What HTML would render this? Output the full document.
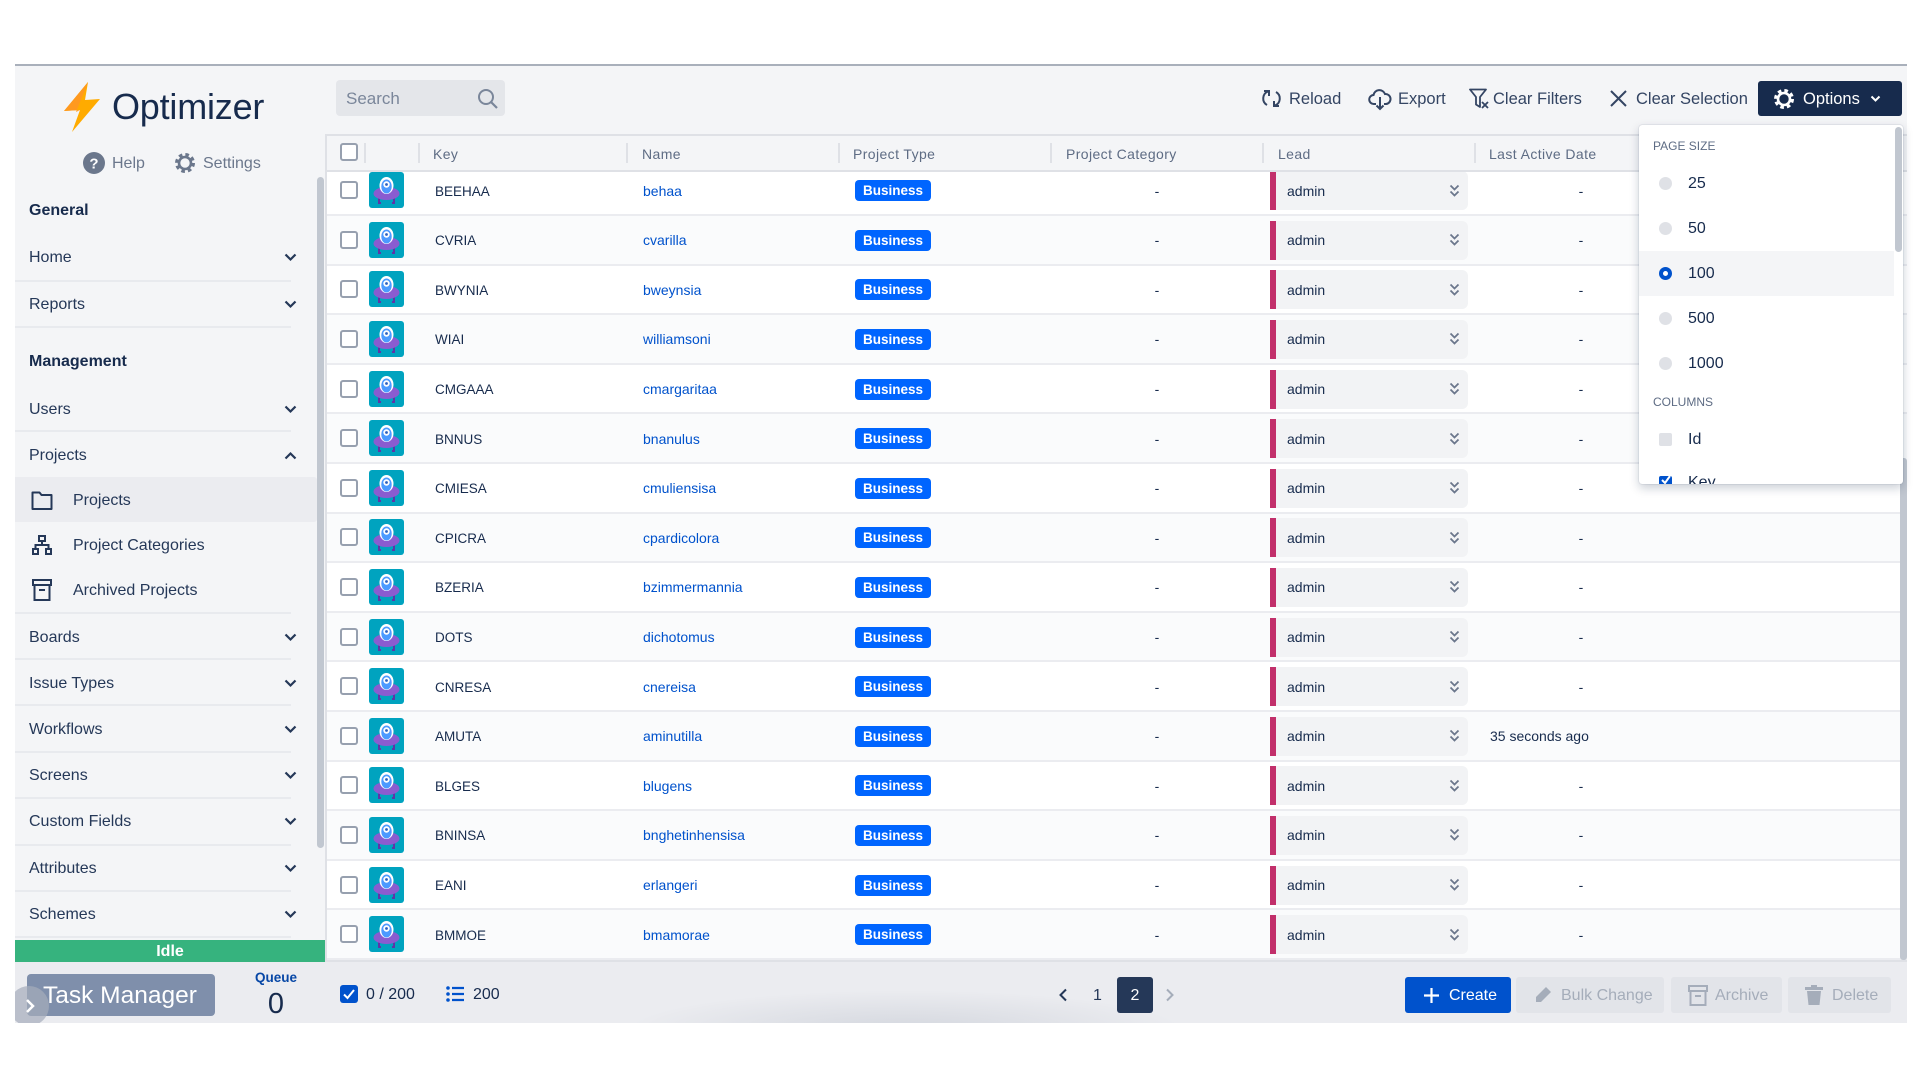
<!DOCTYPE html>
<html><head><meta charset="utf-8">
<style>
*{margin:0;padding:0;box-sizing:border-box}
body{width:1920px;height:1080px;background:#fff;font-family:"Liberation Sans",sans-serif;position:relative;overflow:hidden;color:#172b4d}
.a{position:absolute}
.frame{left:15px;top:64px;width:1892px;height:959px;background:#f4f5f7;border-top:2px solid #a9b0bb}
.si{position:absolute;left:29px;height:24px;line-height:24px;font-size:16px;color:#253858;white-space:nowrap;margin-top:1px}
.sb{font-weight:bold;color:#172b4d}
.sep{position:absolute;left:15px;width:276px;height:2px;background:#e8eaee}
.chev{position:absolute;left:284px}
.row{position:absolute;left:325px;width:1582px;height:49.6px;border-bottom:2px solid #ebecf0;background:#fff}
.row.g{background:#fafbfc}
.row>*{position:absolute}
.cb{left:15px;top:14.8px;width:18px;height:18px;border:2px solid #97a0af;border-radius:3px;background:#fff}
.av{left:44px;top:5.8px}
.key,.nm,.pc,.ad,.la{top:1.3px;line-height:47.6px;font-size:14px;white-space:nowrap}
.key{left:110px;font-size:13.5px;color:#172b4d}
.nm{left:318px;color:#0052cc}
.bd{left:530px;top:13.8px;width:76px;height:21px;line-height:21px;background:#0065ff;color:#fff;font-weight:bold;font-size:13.5px;text-align:center;border-radius:4px}
.pc{left:827px;width:10px;text-align:center}
.lb{left:945px;top:4.8px;width:6px;height:39px;background:#c2306b}
.lx{left:951px;top:4.8px;width:192px;height:39px;background:#f2f3f5;border-radius:0 6px 6px 0}
.ad{left:962px;color:#172b4d}
.dc{left:1124px;top:17.3px}
.la{left:1251px;width:10px;text-align:center}
.la.t{left:1165px;width:auto}
.hl{position:absolute;top:144px;height:20px;line-height:20px;font-size:14px;color:#5e6c84;letter-spacing:0.4px;white-space:nowrap;z-index:3}
.hs{position:absolute;top:143px;width:2px;height:20px;background:#dfe1e6;z-index:3}
.tb{position:absolute;top:88px;height:22px;line-height:22px;font-size:16.5px;color:#344563;white-space:nowrap}
.dd{left:1639px;top:125px;width:264px;height:359px;background:#fff;border-radius:3px;box-shadow:0 4px 10px rgba(9,30,66,.22),0 0 1px rgba(9,30,66,.35);overflow:hidden;z-index:10}
.dd>*{position:absolute}
.dh{left:14px;font-size:12px;color:#5e6c84;height:16px;line-height:16px}
.rd{left:20px;width:13px;height:13px;border-radius:50%;background:#dfe1e6}
.rt{left:49px;font-size:16px;height:20px;line-height:20px;color:#172b4d}
.btn{position:absolute;top:977px;height:36px;border-radius:3px;background:#e2e4e9;color:#a5adba;font-size:16px;line-height:36px;white-space:nowrap}
</style></head><body>

<div class="a frame"></div>

<!-- Sidebar -->
<svg class="a" style="left:62px;top:81px" width="40" height="52" viewBox="0 0 40 52">
<polygon points="26,1 2,30 18,29 10,51 38,18 23,19" fill="#ffab00"/>
<polygon points="26,1 2,30 18,29 14,31" fill="#ff991f"/>
</svg>
<div class="a" style="left:112px;top:85px;font-size:36px;line-height:44px;color:#172b4d;letter-spacing:-0.2px">Optimizer</div>

<svg class="a" style="left:83px;top:152px" width="22" height="22" viewBox="0 0 22 22"><circle cx="11" cy="11" r="11" fill="#6b778c"/><text x="11" y="16.5" text-anchor="middle" font-family="Liberation Sans" font-weight="bold" font-size="15" fill="#fff">?</text></svg>
<div class="a" style="left:112px;top:154px;font-size:16px;line-height:20px;color:#6b778c">Help</div>
<svg class="a" style="left:174px;top:152px" width="22" height="22" viewBox="0 0 22 22"><circle cx="11" cy="11" r="8" fill="none" stroke="#6b778c" stroke-width="4" stroke-dasharray="3.4 2.9"/><circle cx="11" cy="11" r="6" fill="none" stroke="#6b778c" stroke-width="2.6"/></svg>
<div class="a" style="left:203px;top:154px;font-size:16px;line-height:20px;color:#6b778c">Settings</div>

<div class="si sb" style="top:198px">General</div>
<div class="si" style="top:245px">Home</div>
<div class="sep" style="top:280px"></div>
<div class="si" style="top:292px">Reports</div>
<div class="sep" style="top:326px"></div>
<div class="si sb" style="top:349px">Management</div>
<div class="si" style="top:397px">Users</div>
<div class="sep" style="top:430px"></div>
<div class="si" style="top:443px">Projects</div>
<div class="a" style="left:15px;top:477px;width:302px;height:45px;background:#ebecf0;border-radius:0 3px 3px 0"></div>
<svg class="a" style="left:31px;top:489px" width="22" height="22" viewBox="0 0 22 22"><path d="M1.5 3.5h7l2 2.5h10v14h-19z" fill="none" stroke="#253858" stroke-width="2" stroke-linejoin="round"/></svg>
<div class="si" style="left:73px;top:488px">Projects</div>
<svg class="a" style="left:32px;top:535px" width="20" height="21" viewBox="0 0 20 21"><rect x="7" y="1" width="6" height="5" fill="none" stroke="#253858" stroke-width="2"/><path d="M10 6v4M3.5 14v-4h13v4" fill="none" stroke="#253858" stroke-width="2"/><rect x="1" y="14" width="5" height="5" fill="none" stroke="#253858" stroke-width="2"/><rect x="14" y="14" width="5" height="5" fill="none" stroke="#253858" stroke-width="2"/></svg>
<div class="si" style="left:73px;top:533px">Project Categories</div>
<svg class="a" style="left:32px;top:579px" width="20" height="22" viewBox="0 0 20 22"><rect x="1" y="1" width="18" height="5" fill="none" stroke="#253858" stroke-width="2"/><rect x="2.5" y="6" width="15" height="15" fill="none" stroke="#253858" stroke-width="2"/><path d="M7 11h6" stroke="#253858" stroke-width="2"/></svg>
<div class="si" style="left:73px;top:578px">Archived Projects</div>
<div class="sep" style="top:612px"></div>
<div class="si" style="top:625px">Boards</div>
<div class="sep" style="top:658px"></div>
<div class="si" style="top:671px">Issue Types</div>
<div class="sep" style="top:704px"></div>
<div class="si" style="top:717px">Workflows</div>
<div class="sep" style="top:751px"></div>
<div class="si" style="top:763px">Screens</div>
<div class="sep" style="top:797px"></div>
<div class="si" style="top:809px">Custom Fields</div>
<div class="sep" style="top:844px"></div>
<div class="si" style="top:856px">Attributes</div>
<div class="sep" style="top:890px"></div>
<div class="si" style="top:902px">Schemes</div>
<div class="sep" style="top:936px"></div>

<!-- chevrons -->
<svg class="chev" style="top:253px" width="13" height="9" viewBox="0 0 13 9"><path d="M1.5 1.5l5 5 5-5" stroke="#253858" stroke-width="2.2" fill="none"/></svg>
<svg class="chev" style="top:300px" width="13" height="9" viewBox="0 0 13 9"><path d="M1.5 1.5l5 5 5-5" stroke="#253858" stroke-width="2.2" fill="none"/></svg>
<svg class="chev" style="top:405px" width="13" height="9" viewBox="0 0 13 9"><path d="M1.5 1.5l5 5 5-5" stroke="#253858" stroke-width="2.2" fill="none"/></svg>
<svg class="chev" style="top:451px" width="13" height="9" viewBox="0 0 13 9"><path d="M1.5 7.5l5-5 5 5" stroke="#253858" stroke-width="2.2" fill="none"/></svg>
<svg class="chev" style="top:633px" width="13" height="9" viewBox="0 0 13 9"><path d="M1.5 1.5l5 5 5-5" stroke="#253858" stroke-width="2.2" fill="none"/></svg>
<svg class="chev" style="top:679px" width="13" height="9" viewBox="0 0 13 9"><path d="M1.5 1.5l5 5 5-5" stroke="#253858" stroke-width="2.2" fill="none"/></svg>
<svg class="chev" style="top:725px" width="13" height="9" viewBox="0 0 13 9"><path d="M1.5 1.5l5 5 5-5" stroke="#253858" stroke-width="2.2" fill="none"/></svg>
<svg class="chev" style="top:771px" width="13" height="9" viewBox="0 0 13 9"><path d="M1.5 1.5l5 5 5-5" stroke="#253858" stroke-width="2.2" fill="none"/></svg>
<svg class="chev" style="top:817px" width="13" height="9" viewBox="0 0 13 9"><path d="M1.5 1.5l5 5 5-5" stroke="#253858" stroke-width="2.2" fill="none"/></svg>
<svg class="chev" style="top:864px" width="13" height="9" viewBox="0 0 13 9"><path d="M1.5 1.5l5 5 5-5" stroke="#253858" stroke-width="2.2" fill="none"/></svg>
<svg class="chev" style="top:910px" width="13" height="9" viewBox="0 0 13 9"><path d="M1.5 1.5l5 5 5-5" stroke="#253858" stroke-width="2.2" fill="none"/></svg>

<!-- sidebar scrollbar -->
<div class="a" style="left:317px;top:177px;width:7px;height:671px;background:#c1c7d0;border-radius:4px"></div>

<!-- Idle + sidebar footer -->
<div class="a" style="left:15px;top:940px;width:310px;height:22px;background:#36b37e;color:#fff;font-weight:bold;font-size:16px;line-height:23px;text-align:center">Idle</div>
<div class="a" style="left:15px;top:962px;width:310px;height:61px;background:#ebecf0;overflow:hidden">
  <div class="a" style="left:12px;top:12px;width:188px;height:42px;background:#7f8fab;border-radius:4px;color:#fff;font-size:24.5px;line-height:43px;padding-left:16px;white-space:nowrap">Task Manager</div>
  <div class="a" style="left:-6px;top:24px;width:40px;height:40px;border-radius:50%;background:rgba(165,173,186,0.7)"></div>
  <svg class="a" style="left:10px;top:36px" width="10" height="16" viewBox="0 0 10 16"><path d="M2 2l6 6-6 6" stroke="#fff" stroke-width="2.5" fill="none"/></svg>
  <div class="a" style="left:236px;top:8px;width:50px;text-align:center;font-weight:bold;font-size:13.5px;color:#0747a6;line-height:16px">Queue</div>
  <div class="a" style="left:236px;top:25px;width:50px;text-align:center;font-size:29px;color:#172b4d;line-height:34px">0</div>
</div>

<!-- Search -->
<div class="a" style="left:336px;top:80px;width:169px;height:36px;background:#e4e6ea;border-radius:4px"></div>
<div class="a" style="left:346px;top:88px;font-size:17px;line-height:22px;color:#7a869a">Search</div>
<svg class="a" style="left:477px;top:88px" width="22" height="22" viewBox="0 0 22 22"><circle cx="9" cy="9" r="7" fill="none" stroke="#7a869a" stroke-width="2"/><path d="M14 14l6 6" stroke="#7a869a" stroke-width="2.2"/></svg>

<!-- Toolbar -->
<svg class="a" style="left:1261px;top:88px" width="21" height="21" viewBox="0 0 21 21"><path d="M7 3.5A7.5 7.5 0 0 0 6 17" fill="none" stroke="#344563" stroke-width="2"/><path d="M14 17.5A7.5 7.5 0 0 0 15 4" fill="none" stroke="#344563" stroke-width="2"/><path d="M3 3h5v5" fill="none" stroke="#344563" stroke-width="2"/><path d="M18 18h-5v-5" fill="none" stroke="#344563" stroke-width="2"/></svg>
<div class="tb" style="left:1289px">Reload</div>
<svg class="a" style="left:1368px;top:87px" width="24" height="24" viewBox="0 0 24 24"><path d="M8 17H6a4.5 4.5 0 0 1-.5-9A6 6 0 0 1 17 7a4.5 4.5 0 0 1 1 10h-2" fill="none" stroke="#344563" stroke-width="2"/><path d="M12 10v12M8.5 18.5l3.5 3.5 3.5-3.5" fill="none" stroke="#344563" stroke-width="2"/></svg>
<div class="tb" style="left:1398px">Export</div>
<svg class="a" style="left:1469px;top:88px" width="21" height="22" viewBox="0 0 21 22"><path d="M1 1.5h16l-6 7.5v10l-4-2.5v-7.5z" fill="none" stroke="#344563" stroke-width="1.8" stroke-linejoin="round"/><path d="M13 14l6 6M19 14l-6 6" stroke="#344563" stroke-width="1.8"/></svg>
<div class="tb" style="left:1493px">Clear Filters</div>
<svg class="a" style="left:1609px;top:89px" width="19" height="19" viewBox="0 0 19 19"><path d="M2 2l15 15M17 2L2 17" stroke="#344563" stroke-width="2"/></svg>
<div class="tb" style="left:1636px">Clear Selection</div>
<div class="a" style="left:1758px;top:81px;width:144px;height:35px;background:#172b4d;border-radius:3px"></div>
<svg class="a" style="left:1773px;top:88px" width="22" height="22" viewBox="0 0 22 22"><circle cx="11" cy="11" r="8" fill="none" stroke="#fff" stroke-width="4" stroke-dasharray="3.4 2.9"/><circle cx="11" cy="11" r="6" fill="none" stroke="#fff" stroke-width="2.6"/></svg>
<div class="tb" style="left:1803px;color:#fff">Options</div>
<svg class="a" style="left:1870px;top:95px" width="11" height="8" viewBox="0 0 11 8"><path d="M1.5 1.5l4 4 4-4" stroke="#fff" stroke-width="2" fill="none"/></svg>

<!-- Table left border -->
<div class="a" style="left:325px;top:134px;width:2px;height:828px;background:#dfe1e6;z-index:4"></div>

<!-- Rows -->
<div class="row" style="top:166.4px"><div class="cb"></div><svg class="av" width="35" height="36" viewBox="0 0 35 36"><rect width="35" height="36" rx="3" fill="#00a3bf"/><path d="M10 25v6M25 25v6M9 31h3M23 31h3" stroke="#5e35a8" stroke-width="2"/><ellipse cx="17.5" cy="21.5" rx="13" ry="6.5" fill="#8a5cd0"/><ellipse cx="17.5" cy="13.5" rx="7" ry="8.5" fill="#fff"/><ellipse cx="17.5" cy="14.5" rx="5.2" ry="7" fill="#4c9aff"/><circle cx="17.5" cy="12.5" r="3.2" fill="#fff"/><circle cx="17.5" cy="12.5" r="1.4" fill="#2a5fbf"/></svg><span class="key">BEEHAA</span><span class="nm">behaa</span><span class="bd">Business</span><span class="pc">-</span><div class="lb"></div><div class="lx"></div><span class="ad">admin</span><svg class="dc" width="11" height="14" viewBox="0 0 11 14"><path d="M1.5 1.5l4 4 4-4M1.5 7.5l4 4 4-4" stroke="#6b778c" stroke-width="1.8" fill="none"/></svg><span class="la">-</span></div>
<div class="row g" style="top:216px"><div class="cb"></div><svg class="av" width="35" height="36" viewBox="0 0 35 36"><rect width="35" height="36" rx="3" fill="#00a3bf"/><path d="M10 25v6M25 25v6M9 31h3M23 31h3" stroke="#5e35a8" stroke-width="2"/><ellipse cx="17.5" cy="21.5" rx="13" ry="6.5" fill="#8a5cd0"/><ellipse cx="17.5" cy="13.5" rx="7" ry="8.5" fill="#fff"/><ellipse cx="17.5" cy="14.5" rx="5.2" ry="7" fill="#4c9aff"/><circle cx="17.5" cy="12.5" r="3.2" fill="#fff"/><circle cx="17.5" cy="12.5" r="1.4" fill="#2a5fbf"/></svg><span class="key">CVRIA</span><span class="nm">cvarilla</span><span class="bd">Business</span><span class="pc">-</span><div class="lb"></div><div class="lx"></div><span class="ad">admin</span><svg class="dc" width="11" height="14" viewBox="0 0 11 14"><path d="M1.5 1.5l4 4 4-4M1.5 7.5l4 4 4-4" stroke="#6b778c" stroke-width="1.8" fill="none"/></svg><span class="la">-</span></div>
<div class="row" style="top:265.6px"><div class="cb"></div><svg class="av" width="35" height="36" viewBox="0 0 35 36"><rect width="35" height="36" rx="3" fill="#00a3bf"/><path d="M10 25v6M25 25v6M9 31h3M23 31h3" stroke="#5e35a8" stroke-width="2"/><ellipse cx="17.5" cy="21.5" rx="13" ry="6.5" fill="#8a5cd0"/><ellipse cx="17.5" cy="13.5" rx="7" ry="8.5" fill="#fff"/><ellipse cx="17.5" cy="14.5" rx="5.2" ry="7" fill="#4c9aff"/><circle cx="17.5" cy="12.5" r="3.2" fill="#fff"/><circle cx="17.5" cy="12.5" r="1.4" fill="#2a5fbf"/></svg><span class="key">BWYNIA</span><span class="nm">bweynsia</span><span class="bd">Business</span><span class="pc">-</span><div class="lb"></div><div class="lx"></div><span class="ad">admin</span><svg class="dc" width="11" height="14" viewBox="0 0 11 14"><path d="M1.5 1.5l4 4 4-4M1.5 7.5l4 4 4-4" stroke="#6b778c" stroke-width="1.8" fill="none"/></svg><span class="la">-</span></div>
<div class="row g" style="top:315.2px"><div class="cb"></div><svg class="av" width="35" height="36" viewBox="0 0 35 36"><rect width="35" height="36" rx="3" fill="#00a3bf"/><path d="M10 25v6M25 25v6M9 31h3M23 31h3" stroke="#5e35a8" stroke-width="2"/><ellipse cx="17.5" cy="21.5" rx="13" ry="6.5" fill="#8a5cd0"/><ellipse cx="17.5" cy="13.5" rx="7" ry="8.5" fill="#fff"/><ellipse cx="17.5" cy="14.5" rx="5.2" ry="7" fill="#4c9aff"/><circle cx="17.5" cy="12.5" r="3.2" fill="#fff"/><circle cx="17.5" cy="12.5" r="1.4" fill="#2a5fbf"/></svg><span class="key">WIAI</span><span class="nm">williamsoni</span><span class="bd">Business</span><span class="pc">-</span><div class="lb"></div><div class="lx"></div><span class="ad">admin</span><svg class="dc" width="11" height="14" viewBox="0 0 11 14"><path d="M1.5 1.5l4 4 4-4M1.5 7.5l4 4 4-4" stroke="#6b778c" stroke-width="1.8" fill="none"/></svg><span class="la">-</span></div>
<div class="row" style="top:364.8px"><div class="cb"></div><svg class="av" width="35" height="36" viewBox="0 0 35 36"><rect width="35" height="36" rx="3" fill="#00a3bf"/><path d="M10 25v6M25 25v6M9 31h3M23 31h3" stroke="#5e35a8" stroke-width="2"/><ellipse cx="17.5" cy="21.5" rx="13" ry="6.5" fill="#8a5cd0"/><ellipse cx="17.5" cy="13.5" rx="7" ry="8.5" fill="#fff"/><ellipse cx="17.5" cy="14.5" rx="5.2" ry="7" fill="#4c9aff"/><circle cx="17.5" cy="12.5" r="3.2" fill="#fff"/><circle cx="17.5" cy="12.5" r="1.4" fill="#2a5fbf"/></svg><span class="key">CMGAAA</span><span class="nm">cmargaritaa</span><span class="bd">Business</span><span class="pc">-</span><div class="lb"></div><div class="lx"></div><span class="ad">admin</span><svg class="dc" width="11" height="14" viewBox="0 0 11 14"><path d="M1.5 1.5l4 4 4-4M1.5 7.5l4 4 4-4" stroke="#6b778c" stroke-width="1.8" fill="none"/></svg><span class="la">-</span></div>
<div class="row g" style="top:414.4px"><div class="cb"></div><svg class="av" width="35" height="36" viewBox="0 0 35 36"><rect width="35" height="36" rx="3" fill="#00a3bf"/><path d="M10 25v6M25 25v6M9 31h3M23 31h3" stroke="#5e35a8" stroke-width="2"/><ellipse cx="17.5" cy="21.5" rx="13" ry="6.5" fill="#8a5cd0"/><ellipse cx="17.5" cy="13.5" rx="7" ry="8.5" fill="#fff"/><ellipse cx="17.5" cy="14.5" rx="5.2" ry="7" fill="#4c9aff"/><circle cx="17.5" cy="12.5" r="3.2" fill="#fff"/><circle cx="17.5" cy="12.5" r="1.4" fill="#2a5fbf"/></svg><span class="key">BNNUS</span><span class="nm">bnanulus</span><span class="bd">Business</span><span class="pc">-</span><div class="lb"></div><div class="lx"></div><span class="ad">admin</span><svg class="dc" width="11" height="14" viewBox="0 0 11 14"><path d="M1.5 1.5l4 4 4-4M1.5 7.5l4 4 4-4" stroke="#6b778c" stroke-width="1.8" fill="none"/></svg><span class="la">-</span></div>
<div class="row" style="top:464px"><div class="cb"></div><svg class="av" width="35" height="36" viewBox="0 0 35 36"><rect width="35" height="36" rx="3" fill="#00a3bf"/><path d="M10 25v6M25 25v6M9 31h3M23 31h3" stroke="#5e35a8" stroke-width="2"/><ellipse cx="17.5" cy="21.5" rx="13" ry="6.5" fill="#8a5cd0"/><ellipse cx="17.5" cy="13.5" rx="7" ry="8.5" fill="#fff"/><ellipse cx="17.5" cy="14.5" rx="5.2" ry="7" fill="#4c9aff"/><circle cx="17.5" cy="12.5" r="3.2" fill="#fff"/><circle cx="17.5" cy="12.5" r="1.4" fill="#2a5fbf"/></svg><span class="key">CMIESA</span><span class="nm">cmuliensisa</span><span class="bd">Business</span><span class="pc">-</span><div class="lb"></div><div class="lx"></div><span class="ad">admin</span><svg class="dc" width="11" height="14" viewBox="0 0 11 14"><path d="M1.5 1.5l4 4 4-4M1.5 7.5l4 4 4-4" stroke="#6b778c" stroke-width="1.8" fill="none"/></svg><span class="la">-</span></div>
<div class="row g" style="top:513.6px"><div class="cb"></div><svg class="av" width="35" height="36" viewBox="0 0 35 36"><rect width="35" height="36" rx="3" fill="#00a3bf"/><path d="M10 25v6M25 25v6M9 31h3M23 31h3" stroke="#5e35a8" stroke-width="2"/><ellipse cx="17.5" cy="21.5" rx="13" ry="6.5" fill="#8a5cd0"/><ellipse cx="17.5" cy="13.5" rx="7" ry="8.5" fill="#fff"/><ellipse cx="17.5" cy="14.5" rx="5.2" ry="7" fill="#4c9aff"/><circle cx="17.5" cy="12.5" r="3.2" fill="#fff"/><circle cx="17.5" cy="12.5" r="1.4" fill="#2a5fbf"/></svg><span class="key">CPICRA</span><span class="nm">cpardicolora</span><span class="bd">Business</span><span class="pc">-</span><div class="lb"></div><div class="lx"></div><span class="ad">admin</span><svg class="dc" width="11" height="14" viewBox="0 0 11 14"><path d="M1.5 1.5l4 4 4-4M1.5 7.5l4 4 4-4" stroke="#6b778c" stroke-width="1.8" fill="none"/></svg><span class="la">-</span></div>
<div class="row" style="top:563.2px"><div class="cb"></div><svg class="av" width="35" height="36" viewBox="0 0 35 36"><rect width="35" height="36" rx="3" fill="#00a3bf"/><path d="M10 25v6M25 25v6M9 31h3M23 31h3" stroke="#5e35a8" stroke-width="2"/><ellipse cx="17.5" cy="21.5" rx="13" ry="6.5" fill="#8a5cd0"/><ellipse cx="17.5" cy="13.5" rx="7" ry="8.5" fill="#fff"/><ellipse cx="17.5" cy="14.5" rx="5.2" ry="7" fill="#4c9aff"/><circle cx="17.5" cy="12.5" r="3.2" fill="#fff"/><circle cx="17.5" cy="12.5" r="1.4" fill="#2a5fbf"/></svg><span class="key">BZERIA</span><span class="nm">bzimmermannia</span><span class="bd">Business</span><span class="pc">-</span><div class="lb"></div><div class="lx"></div><span class="ad">admin</span><svg class="dc" width="11" height="14" viewBox="0 0 11 14"><path d="M1.5 1.5l4 4 4-4M1.5 7.5l4 4 4-4" stroke="#6b778c" stroke-width="1.8" fill="none"/></svg><span class="la">-</span></div>
<div class="row g" style="top:612.8px"><div class="cb"></div><svg class="av" width="35" height="36" viewBox="0 0 35 36"><rect width="35" height="36" rx="3" fill="#00a3bf"/><path d="M10 25v6M25 25v6M9 31h3M23 31h3" stroke="#5e35a8" stroke-width="2"/><ellipse cx="17.5" cy="21.5" rx="13" ry="6.5" fill="#8a5cd0"/><ellipse cx="17.5" cy="13.5" rx="7" ry="8.5" fill="#fff"/><ellipse cx="17.5" cy="14.5" rx="5.2" ry="7" fill="#4c9aff"/><circle cx="17.5" cy="12.5" r="3.2" fill="#fff"/><circle cx="17.5" cy="12.5" r="1.4" fill="#2a5fbf"/></svg><span class="key">DOTS</span><span class="nm">dichotomus</span><span class="bd">Business</span><span class="pc">-</span><div class="lb"></div><div class="lx"></div><span class="ad">admin</span><svg class="dc" width="11" height="14" viewBox="0 0 11 14"><path d="M1.5 1.5l4 4 4-4M1.5 7.5l4 4 4-4" stroke="#6b778c" stroke-width="1.8" fill="none"/></svg><span class="la">-</span></div>
<div class="row" style="top:662.4px"><div class="cb"></div><svg class="av" width="35" height="36" viewBox="0 0 35 36"><rect width="35" height="36" rx="3" fill="#00a3bf"/><path d="M10 25v6M25 25v6M9 31h3M23 31h3" stroke="#5e35a8" stroke-width="2"/><ellipse cx="17.5" cy="21.5" rx="13" ry="6.5" fill="#8a5cd0"/><ellipse cx="17.5" cy="13.5" rx="7" ry="8.5" fill="#fff"/><ellipse cx="17.5" cy="14.5" rx="5.2" ry="7" fill="#4c9aff"/><circle cx="17.5" cy="12.5" r="3.2" fill="#fff"/><circle cx="17.5" cy="12.5" r="1.4" fill="#2a5fbf"/></svg><span class="key">CNRESA</span><span class="nm">cnereisa</span><span class="bd">Business</span><span class="pc">-</span><div class="lb"></div><div class="lx"></div><span class="ad">admin</span><svg class="dc" width="11" height="14" viewBox="0 0 11 14"><path d="M1.5 1.5l4 4 4-4M1.5 7.5l4 4 4-4" stroke="#6b778c" stroke-width="1.8" fill="none"/></svg><span class="la">-</span></div>
<div class="row g" style="top:712px"><div class="cb"></div><svg class="av" width="35" height="36" viewBox="0 0 35 36"><rect width="35" height="36" rx="3" fill="#00a3bf"/><path d="M10 25v6M25 25v6M9 31h3M23 31h3" stroke="#5e35a8" stroke-width="2"/><ellipse cx="17.5" cy="21.5" rx="13" ry="6.5" fill="#8a5cd0"/><ellipse cx="17.5" cy="13.5" rx="7" ry="8.5" fill="#fff"/><ellipse cx="17.5" cy="14.5" rx="5.2" ry="7" fill="#4c9aff"/><circle cx="17.5" cy="12.5" r="3.2" fill="#fff"/><circle cx="17.5" cy="12.5" r="1.4" fill="#2a5fbf"/></svg><span class="key">AMUTA</span><span class="nm">aminutilla</span><span class="bd">Business</span><span class="pc">-</span><div class="lb"></div><div class="lx"></div><span class="ad">admin</span><svg class="dc" width="11" height="14" viewBox="0 0 11 14"><path d="M1.5 1.5l4 4 4-4M1.5 7.5l4 4 4-4" stroke="#6b778c" stroke-width="1.8" fill="none"/></svg><span class="la t">35 seconds ago</span></div>
<div class="row" style="top:761.6px"><div class="cb"></div><svg class="av" width="35" height="36" viewBox="0 0 35 36"><rect width="35" height="36" rx="3" fill="#00a3bf"/><path d="M10 25v6M25 25v6M9 31h3M23 31h3" stroke="#5e35a8" stroke-width="2"/><ellipse cx="17.5" cy="21.5" rx="13" ry="6.5" fill="#8a5cd0"/><ellipse cx="17.5" cy="13.5" rx="7" ry="8.5" fill="#fff"/><ellipse cx="17.5" cy="14.5" rx="5.2" ry="7" fill="#4c9aff"/><circle cx="17.5" cy="12.5" r="3.2" fill="#fff"/><circle cx="17.5" cy="12.5" r="1.4" fill="#2a5fbf"/></svg><span class="key">BLGES</span><span class="nm">blugens</span><span class="bd">Business</span><span class="pc">-</span><div class="lb"></div><div class="lx"></div><span class="ad">admin</span><svg class="dc" width="11" height="14" viewBox="0 0 11 14"><path d="M1.5 1.5l4 4 4-4M1.5 7.5l4 4 4-4" stroke="#6b778c" stroke-width="1.8" fill="none"/></svg><span class="la">-</span></div>
<div class="row g" style="top:811.2px"><div class="cb"></div><svg class="av" width="35" height="36" viewBox="0 0 35 36"><rect width="35" height="36" rx="3" fill="#00a3bf"/><path d="M10 25v6M25 25v6M9 31h3M23 31h3" stroke="#5e35a8" stroke-width="2"/><ellipse cx="17.5" cy="21.5" rx="13" ry="6.5" fill="#8a5cd0"/><ellipse cx="17.5" cy="13.5" rx="7" ry="8.5" fill="#fff"/><ellipse cx="17.5" cy="14.5" rx="5.2" ry="7" fill="#4c9aff"/><circle cx="17.5" cy="12.5" r="3.2" fill="#fff"/><circle cx="17.5" cy="12.5" r="1.4" fill="#2a5fbf"/></svg><span class="key">BNINSA</span><span class="nm">bnghetinhensisa</span><span class="bd">Business</span><span class="pc">-</span><div class="lb"></div><div class="lx"></div><span class="ad">admin</span><svg class="dc" width="11" height="14" viewBox="0 0 11 14"><path d="M1.5 1.5l4 4 4-4M1.5 7.5l4 4 4-4" stroke="#6b778c" stroke-width="1.8" fill="none"/></svg><span class="la">-</span></div>
<div class="row" style="top:860.8px"><div class="cb"></div><svg class="av" width="35" height="36" viewBox="0 0 35 36"><rect width="35" height="36" rx="3" fill="#00a3bf"/><path d="M10 25v6M25 25v6M9 31h3M23 31h3" stroke="#5e35a8" stroke-width="2"/><ellipse cx="17.5" cy="21.5" rx="13" ry="6.5" fill="#8a5cd0"/><ellipse cx="17.5" cy="13.5" rx="7" ry="8.5" fill="#fff"/><ellipse cx="17.5" cy="14.5" rx="5.2" ry="7" fill="#4c9aff"/><circle cx="17.5" cy="12.5" r="3.2" fill="#fff"/><circle cx="17.5" cy="12.5" r="1.4" fill="#2a5fbf"/></svg><span class="key">EANI</span><span class="nm">erlangeri</span><span class="bd">Business</span><span class="pc">-</span><div class="lb"></div><div class="lx"></div><span class="ad">admin</span><svg class="dc" width="11" height="14" viewBox="0 0 11 14"><path d="M1.5 1.5l4 4 4-4M1.5 7.5l4 4 4-4" stroke="#6b778c" stroke-width="1.8" fill="none"/></svg><span class="la">-</span></div>
<div class="row g" style="top:910.4px"><div class="cb"></div><svg class="av" width="35" height="36" viewBox="0 0 35 36"><rect width="35" height="36" rx="3" fill="#00a3bf"/><path d="M10 25v6M25 25v6M9 31h3M23 31h3" stroke="#5e35a8" stroke-width="2"/><ellipse cx="17.5" cy="21.5" rx="13" ry="6.5" fill="#8a5cd0"/><ellipse cx="17.5" cy="13.5" rx="7" ry="8.5" fill="#fff"/><ellipse cx="17.5" cy="14.5" rx="5.2" ry="7" fill="#4c9aff"/><circle cx="17.5" cy="12.5" r="3.2" fill="#fff"/><circle cx="17.5" cy="12.5" r="1.4" fill="#2a5fbf"/></svg><span class="key">BMMOE</span><span class="nm">bmamorae</span><span class="bd">Business</span><span class="pc">-</span><div class="lb"></div><div class="lx"></div><span class="ad">admin</span><svg class="dc" width="11" height="14" viewBox="0 0 11 14"><path d="M1.5 1.5l4 4 4-4M1.5 7.5l4 4 4-4" stroke="#6b778c" stroke-width="1.8" fill="none"/></svg><span class="la">-</span></div>

<!-- Header -->
<div class="a" style="left:325px;top:134px;width:1582px;height:38px;background:#f4f5f7;border-top:2px solid #dfe1e6;border-bottom:2px solid #dfe1e6;z-index:2"></div>
<div class="a" style="left:340px;top:143px;width:18px;height:18px;border:2px solid #97a0af;border-radius:3px;background:#fff;z-index:3"></div>
<div class="hs" style="left:364px"></div>
<div class="hs" style="left:418px"></div>
<div class="hs" style="left:626px"></div>
<div class="hs" style="left:838px"></div>
<div class="hs" style="left:1050px"></div>
<div class="hs" style="left:1262px"></div>
<div class="hs" style="left:1474px"></div>
<div class="hl" style="left:433px">Key</div>
<div class="hl" style="left:642px">Name</div>
<div class="hl" style="left:853px">Project Type</div>
<div class="hl" style="left:1066px">Project Category</div>
<div class="hl" style="left:1278px">Lead</div>
<div class="hl" style="left:1489px">Last Active Date</div>

<!-- main scrollbar -->
<div class="a" style="left:1900px;top:458px;width:7px;height:502px;background:#c1c7d0;border-radius:3px;z-index:4"></div>

<!-- Footer main -->
<div class="a" style="left:325px;top:960px;width:1582px;height:63px;background:#ebecf0;border-top:2px solid #dfe1e6;overflow:hidden">
  <div class="a" style="left:300px;top:20px;width:560px;height:80px;background:radial-gradient(ellipse 50% 50% at 50% 60%,rgba(9,30,66,0.10),rgba(9,30,66,0))"></div>
</div>
<div class="a" style="left:340px;top:985px;width:18px;height:18px;background:#0052cc;border-radius:3px"></div>
<svg class="a" style="left:340px;top:985px" width="18" height="18" viewBox="0 0 18 18"><path d="M4 9.5l3.5 3.5 6.5-8" stroke="#fff" stroke-width="2" fill="none"/></svg>
<div class="a" style="left:366px;top:985px;font-size:16px;line-height:20px;color:#172b4d">0 / 200</div>
<svg class="a" style="left:446px;top:986px" width="18" height="16" viewBox="0 0 18 16"><circle cx="2" cy="2" r="1.8" fill="#0052cc"/><circle cx="2" cy="8" r="1.8" fill="#0052cc"/><circle cx="2" cy="14" r="1.8" fill="#0052cc"/><path d="M6 2h12M6 8h12M6 14h12" stroke="#0052cc" stroke-width="2.2"/></svg>
<div class="a" style="left:473px;top:985px;font-size:16px;line-height:20px;color:#172b4d">200</div>

<svg class="a" style="left:1058px;top:988px" width="10" height="14" viewBox="0 0 10 14"><path d="M8 1.5L2.5 7 8 12.5" stroke="#253858" stroke-width="2" fill="none"/></svg>
<div class="a" style="left:1093px;top:986px;font-size:16px;line-height:20px;color:#253858">1</div>
<div class="a" style="left:1117px;top:977px;width:36px;height:36px;background:#253858;border-radius:3px;color:#fff;font-size:16px;line-height:37px;text-align:center">2</div>
<svg class="a" style="left:1165px;top:988px" width="10" height="14" viewBox="0 0 10 14"><path d="M2 1.5L7.5 7 2 12.5" stroke="#a5adba" stroke-width="2" fill="none"/></svg>

<div class="btn" style="left:1405px;width:106px;background:#0052cc;color:#fff;line-height:37px"><svg style="position:absolute;left:19px;top:11px" width="15" height="15" viewBox="0 0 15 15"><path d="M7.5 0v15M0 7.5h15" stroke="#fff" stroke-width="2.2"/></svg><span style="position:absolute;left:44px">Create</span></div>
<div class="btn" style="left:1516px;width:148px;line-height:37px"><svg style="position:absolute;left:17px;top:8px" width="20" height="20" viewBox="0 0 20 20"><path d="M13 2l5 5-10 10H3v-5z" fill="#a5adba"/></svg><span style="position:absolute;left:45px">Bulk Change</span></div>
<div class="btn" style="left:1671px;width:111px;line-height:37px"><svg style="position:absolute;left:17px;top:8px" width="20" height="21" viewBox="0 0 20 21"><rect x="1" y="1" width="18" height="5" fill="none" stroke="#a5adba" stroke-width="2"/><rect x="2.5" y="6" width="15" height="14" fill="none" stroke="#a5adba" stroke-width="2"/><path d="M7 11h6" stroke="#a5adba" stroke-width="2"/></svg><span style="position:absolute;left:44px">Archive</span></div>
<div class="btn" style="left:1788px;width:103px;line-height:37px"><svg style="position:absolute;left:17px;top:8px" width="18" height="20" viewBox="0 0 18 20"><rect x="0" y="2" width="18" height="3" fill="#a5adba"/><rect x="6" y="0" width="6" height="3" fill="#a5adba"/><path d="M2 6h14l-1.5 14h-11z" fill="#a5adba"/></svg><span style="position:absolute;left:44px">Delete</span></div>

<!-- Dropdown -->
<div class="a dd">
  <div class="dh" style="top:13px">PAGE SIZE</div>
  <div class="rd" style="top:51.5px"></div><div class="rt" style="top:49px">25</div>
  <div class="rd" style="top:96.5px"></div><div class="rt" style="top:94px">50</div>
  <div style="left:0;top:126px;width:255px;height:45px;background:#f4f5f7"></div>
  <div class="rd" style="top:141.5px;background:#fff;border:4px solid #0052cc"></div><div class="rt" style="top:139px">100</div>
  <div class="rd" style="top:186.5px"></div><div class="rt" style="top:184px">500</div>
  <div class="rd" style="top:231.5px"></div><div class="rt" style="top:229px">1000</div>
  <div class="dh" style="top:269px">COLUMNS</div>
  <div class="rd" style="top:307.5px;border-radius:2px"></div><div class="rt" style="top:305px">Id</div>
  <div class="rd" style="top:350.5px;border-radius:2px;background:#0052cc"></div>
  <svg style="left:20px;top:350px" width="13" height="9" viewBox="0 0 13 9"><path d="M3 5l3 3 5-7" stroke="#fff" stroke-width="2" fill="none"/></svg>
  <div class="rt" style="top:348px">Key</div>
  <div style="left:256px;top:2px;width:7px;height:125px;background:#c1c7d0;border-radius:4px"></div>
</div>

</body></html>
